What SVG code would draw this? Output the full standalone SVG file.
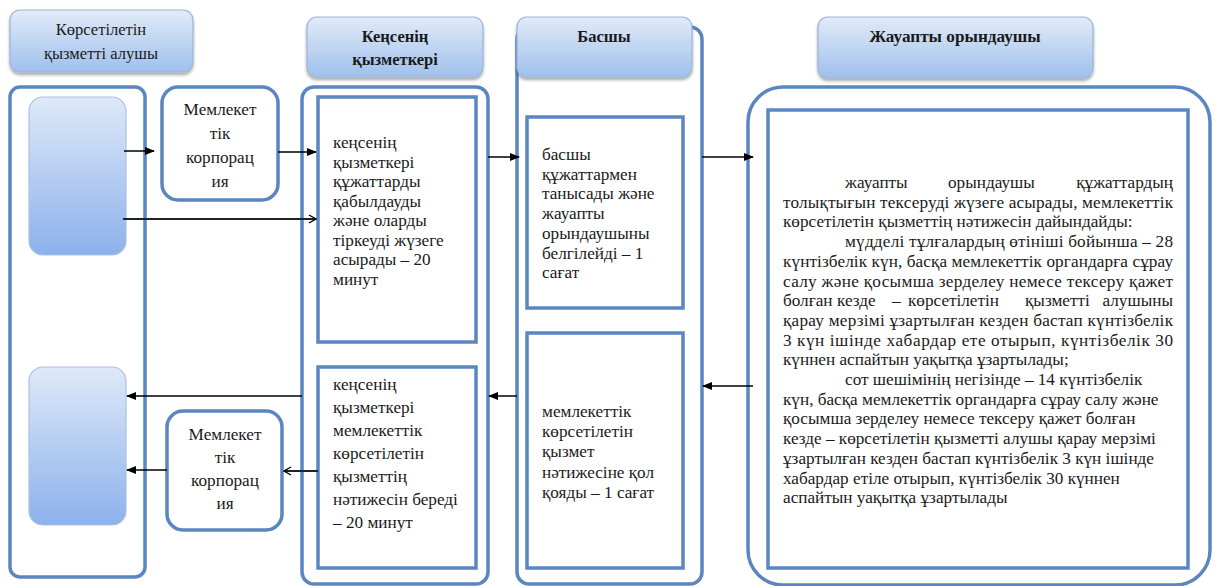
<svg xmlns="http://www.w3.org/2000/svg" width="1214" height="586" viewBox="0 0 1214 586">
<defs>
<linearGradient id="hdr" x1="0" y1="0" x2="0" y2="1">
<stop offset="0" stop-color="#e2ebf8"/><stop offset="1" stop-color="#9fc0ec"/>
</linearGradient>
<linearGradient id="act" x1="0" y1="0" x2="0" y2="1">
<stop offset="0" stop-color="#dfe9f8"/><stop offset="1" stop-color="#8cb1ec"/>
</linearGradient>
<filter id="sh" x="-10%" y="-10%" width="120%" height="150%">
<feDropShadow dx="0" dy="2.5" stdDeviation="1.5" flood-color="#000" flood-opacity="0.35"/>
</filter>
<marker id="ah" markerWidth="10" markerHeight="8" refX="9" refY="4" orient="auto" markerUnits="userSpaceOnUse">
<path d="M0,0 L10,4 L0,8 z" fill="#000"/>
</marker>
<marker id="oh" markerWidth="10" markerHeight="10" refX="8" refY="5" orient="auto" markerUnits="userSpaceOnUse">
<path d="M1,1 L8,5 L1,9" fill="none" stroke="#000" stroke-width="1.4"/>
</marker>
</defs>
<style>
.lane{fill:none;stroke:#5b87c1;stroke-width:3.5}
.box{fill:#fff;stroke:#5b87c1;stroke-width:3.5}
.hdr{fill:url(#hdr);stroke:#9ab5da;stroke-width:1.2;filter:url(#sh)}
.act{fill:url(#act);stroke:#a9c2e2;stroke-width:1.2}
.t{font-family:"Liberation Serif","Times New Roman",serif;font-size:17.2px;fill:#1a1a1a}
.h{font-size:16.5px}
.b{font-weight:bold}
.c{text-anchor:middle}
.e{text-anchor:end}
.ar{stroke:#000;stroke-width:1.5;fill:none;marker-end:url(#ah)}
.ao{stroke:#222;stroke-width:1.8;fill:none;marker-end:url(#oh)}
</style>
<rect width="1214" height="586" fill="#fff"/>

<g id="lane-client">
<rect class="lane" x="10" y="87" width="135" height="490" rx="10"/>
<rect class="act" x="29" y="97" width="97" height="158" rx="14"/>
<rect class="act" x="29" y="367" width="97" height="158" rx="14"/>
</g>
<g id="lane-office">
<rect class="lane" x="302" y="87" width="186" height="497" rx="12"/>
</g>
<g id="lane-head">
<rect class="lane" x="517" y="27" width="185" height="557" rx="12"/>
</g>
<g id="lane-exec">
<rect class="lane" x="748" y="87" width="462" height="498" rx="35"/>
</g>

<g id="hdr-client">
<rect class="hdr" x="10" y="10" width="183" height="62" rx="10"/>
<text class="t h c" x="101" y="35">Көрсетілетін</text>
<text class="t h c" x="101" y="59">қызметті алушы</text>
</g>
<g id="hdr-office">
<rect class="hdr" x="307" y="17" width="176" height="60" rx="10"/>
<text class="t h c b" x="395" y="42">Кеңсенің</text>
<text class="t h c b" x="395" y="65">қызметкері</text>
</g>
<g id="hdr-head">
<rect class="hdr" x="517" y="17" width="175" height="60" rx="10"/>
<text class="t h c b" x="604" y="42">Басшы</text>
</g>
<g id="hdr-exec">
<rect class="hdr" x="818" y="17" width="275" height="61" rx="10"/>
<text class="t c b" x="955" y="42">Жауапты орындаушы</text>
</g>

<g id="corp-top">
<rect class="box" x="162" y="87" width="116" height="113" rx="16"/>
<text class="t c" x="220" y="115">Мемлекет</text>
<text class="t c" x="220" y="139">тік</text>
<text class="t c" x="220" y="163">корпорац</text>
<text class="t c" x="220" y="187">ия</text>
</g>
<g id="corp-bottom">
<rect class="box" x="167" y="411" width="115" height="119" rx="16"/>
<text class="t c" x="225" y="440">Мемлекет</text>
<text class="t c" x="225" y="463">тік</text>
<text class="t c" x="225" y="486">корпорац</text>
<text class="t c" x="225" y="509">ия</text>
</g>

<g id="office-receive">
<rect class="box" x="318" y="97" width="158" height="245"/>
<text class="t" x="333" y="148">кеңсенің</text>
<text class="t" x="333" y="167.5">қызметкері</text>
<text class="t" x="333" y="187">құжаттарды</text>
<text class="t" x="333" y="206.5">қабылдауды</text>
<text class="t" x="333" y="226">және оларды</text>
<text class="t" x="333" y="245.5">тіркеуді жүзеге</text>
<text class="t" x="333" y="265">асырады – 20</text>
<text class="t" x="333" y="284.5">минут</text>
</g>
<g id="office-issue">
<rect class="box" x="318" y="367" width="158" height="201"/>
<text class="t" x="333" y="390">кеңсенің</text>
<text class="t" x="333" y="413">қызметкері</text>
<text class="t" x="333" y="436">мемлекеттік</text>
<text class="t" x="333" y="459">көрсетілетін</text>
<text class="t" x="333" y="482">қызметтің</text>
<text class="t" x="333" y="505">нәтижесін береді</text>
<text class="t" x="333" y="528">– 20 минут</text>
</g>
<g id="head-review">
<rect class="box" x="527" y="117" width="156" height="191"/>
<text class="t" x="542" y="160">басшы</text>
<text class="t" x="542" y="179.7">құжаттармен</text>
<text class="t" x="542" y="199.4">танысады және</text>
<text class="t" x="542" y="219.1">жауапты</text>
<text class="t" x="542" y="238.8">орындаушыны</text>
<text class="t" x="542" y="258.5">белгілейді – 1</text>
<text class="t" x="542" y="278.2">сағат</text>
</g>
<g id="head-sign">
<rect class="box" x="527" y="333" width="156" height="235"/>
<text class="t" x="542" y="417">мемлекеттік</text>
<text class="t" x="542" y="437">көрсетілетін</text>
<text class="t" x="542" y="457">қызмет</text>
<text class="t" x="542" y="478">нәтижесіне қол</text>
<text class="t" x="542" y="498">қояды – 1 сағат</text>
</g>
<g id="exec-prepare">
<rect class="box" x="768" y="110" width="420" height="458"/>
<text class="t" y="188"><tspan x="845">жауапты</tspan><tspan x="948">орындаушы</tspan></text>
<text class="t e" x="1173" y="188">құжаттардың</text>
<text class="t" x="783" y="207.7" textLength="390" lengthAdjust="spacing">толықтығын тексеруді жүзеге асырады, мемлекеттік</text>
<text class="t" x="783" y="227.4">көрсетілетін қызметтің нәтижесін дайындайды:</text>
<text class="t" x="845" y="247.1" textLength="328" lengthAdjust="spacing">мүдделі тұлғалардың өтініші бойынша – 28</text>
<text class="t" x="783" y="266.8" textLength="390" lengthAdjust="spacing">күнтізбелік күн, басқа мемлекеттік органдарға сұрау</text>
<text class="t" x="783" y="286.5" textLength="390" lengthAdjust="spacing">салу және қосымша зерделеу немесе тексеру қажет</text>
<text class="t" y="306.2"><tspan x="783">болған</tspan><tspan x="837">кезде</tspan><tspan x="892">–</tspan><tspan x="908">көрсетілетін</tspan><tspan x="1025">қызметті</tspan></text>
<text class="t e" x="1173" y="306.2">алушыны</text>
<text class="t" x="783" y="325.9" textLength="390" lengthAdjust="spacing">қарау мерзімі ұзартылған кезден бастап күнтізбелік</text>
<text class="t" x="783" y="345.6" textLength="390" lengthAdjust="spacing">3 күн ішінде хабардар ете отырып, күнтізбелік 30</text>
<text class="t" x="783" y="365.3">күннен аспайтын уақытқа ұзартылады;</text>
<text class="t" x="845" y="385">сот шешімінің негізінде – 14 күнтізбелік</text>
<text class="t" x="783" y="404.7">күн, басқа мемлекеттік органдарға сұрау салу және</text>
<text class="t" x="783" y="424.4">қосымша зерделеу немесе тексеру қажет болған</text>
<text class="t" x="783" y="444.1">кезде – көрсетілетін қызметті алушы қарау мерзімі</text>
<text class="t" x="783" y="463.8">ұзартылған кезден бастап күнтізбелік 3 күн ішінде</text>
<text class="t" x="783" y="483.5">хабардар етіле отырып, күнтізбелік 30 күннен</text>
<text class="t" x="783" y="503.2">аспайтын уақытқа ұзартылады</text>
</g>

<g id="connectors">
<line class="ar" x1="124" y1="151" x2="154" y2="151"/>
<line class="ar" x1="278" y1="152" x2="316" y2="152"/>
<line class="ao" x1="123" y1="219" x2="316" y2="219"/>
<line class="ar" x1="488" y1="157" x2="519" y2="157"/>
<line class="ar" x1="702" y1="157" x2="753" y2="157"/>
<line class="ar" x1="753" y1="386" x2="703" y2="386"/>
<line class="ar" x1="517" y1="396" x2="489" y2="396"/>
<line class="ar" x1="302" y1="396" x2="127" y2="396"/>
<line class="ao" x1="318" y1="471" x2="284" y2="471"/>
<line class="ar" x1="167" y1="470" x2="127" y2="470"/>
</g>
</svg>
